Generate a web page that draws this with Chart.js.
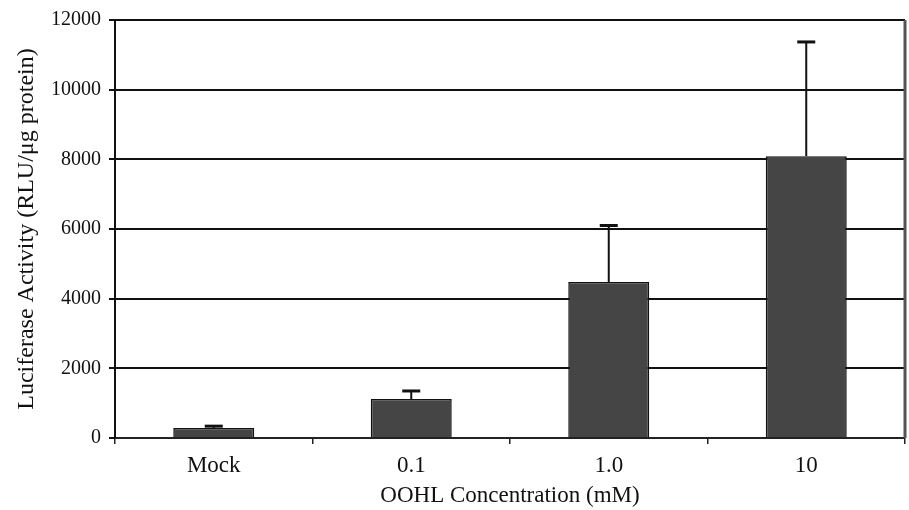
<!DOCTYPE html>
<html>
<head>
<meta charset="utf-8">
<script src="https://cdn.jsdelivr.net/npm/chart.js@4/dist/chart.umd.min.js"></script>
<style>
  body { margin: 0; background: #fff; }
  #wrap { width: 909px; height: 510px; position: relative; }
</style>
</head>
<body>
<div id="wrap"><canvas id="myChart"></canvas></div>
<script>
// OOHL concentrations on the x axis
const categories = ['Mock', '0.1', '1.0', '10'];
// mean luciferase activity and upper error (SD)
const meanValues = [290, 1120, 4480, 8090];
const errorValues = [50, 230, 1620, 3280];
const yTicks = [0, 2000, 4000, 6000, 8000, 10000, 12000];

// draws the one-sided error bars and the grey right frame
const errorBarPlugin = {
  id: 'errorBars',
  afterDatasetsDraw: function(chart) {
    const ctx = chart.ctx;
    const yScale = chart.scales.y;
    const meta = chart.getDatasetMeta(0);
    ctx.save();
    ctx.strokeStyle = '#111';
    meta.data.forEach(function(bar, i) {
      const yBase = yScale.getPixelForValue(meanValues[i]);
      const yTop = yScale.getPixelForValue(meanValues[i] + errorValues[i]);
      ctx.lineWidth = 2;
      ctx.beginPath();
      ctx.moveTo(bar.x, yBase);
      ctx.lineTo(bar.x, yTop);
      ctx.stroke();
      ctx.lineWidth = 3;
      ctx.beginPath();
      ctx.moveTo(bar.x - 9, yTop);
      ctx.lineTo(bar.x + 9, yTop);
      ctx.stroke();
    });
    const area = chart.chartArea;
    ctx.strokeStyle = '#555';
    ctx.lineWidth = 3;
    ctx.beginPath();
    ctx.moveTo(area.right, area.top);
    ctx.lineTo(area.right, area.bottom);
    ctx.stroke();
    ctx.restore();
  }
};

const ctx = document.getElementById('myChart');
const chart = new Chart(ctx, {
  type: 'bar',
  data: {
    labels: categories,
    datasets: [{
      data: meanValues,
      backgroundColor: '#454545',
      borderColor: '#111',
      borderWidth: 1.5,
      barPercentage: 0.41,
      categoryPercentage: 1
    }]
  },
  options: {
    responsive: true,
    maintainAspectRatio: false,
    animation: false,
    layout: { padding: { top: 20, right: 4, left: 0, bottom: 0 } },
    plugins: {
      legend: { display: false },
      tooltip: { enabled: false }
    },
    scales: {
      x: {
        grid: { display: true, drawOnChartArea: false, offset: true, color: '#222', lineWidth: 1.5, tickLength: 6 },
        border: { display: true, color: '#222', width: 2 },
        ticks: { color: '#111', font: { family: 'Liberation Serif', size: 23 }, padding: 8 },
        title: { display: true, text: 'OOHL Concentration (mM)', color: '#111', font: { family: 'Liberation Serif', size: 23 }, padding: { top: 0, bottom: 0 } },
        afterFit: function(scale) { scale.width = scale.width; scale.height = 72; }
      },
      y: {
        min: 0,
        max: 12000,
        afterBuildTicks: function(scale) {
          scale.ticks = yTicks.map(v => ({ value: v }));
        },
        grid: { color: '#111', lineWidth: 2, tickLength: 6 },
        border: { display: true, color: '#111', width: 2 },
        ticks: {
          color: '#111',
          font: { family: 'Liberation Serif', size: 20 },
          padding: 8,
          callback: function(value) { return String(value); }
        },
        title: { display: true, text: 'Luciferase Activity (RLU/μg protein)', color: '#111', font: { family: 'Liberation Serif', size: 24 }, padding: { top: 12, bottom: 4 } },
        afterFit: function(scale) { scale.width = 115; }
      }
    }
  },
  plugins: [errorBarPlugin]
});
</script>
</body>
</html>
